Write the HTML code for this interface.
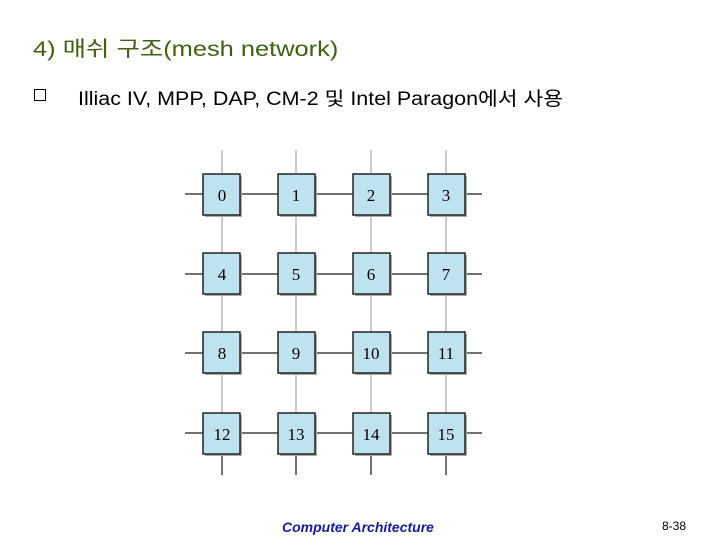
<!DOCTYPE html>
<html><head><meta charset="utf-8"><style>
body{margin:0;width:720px;height:540px;background:#fff;position:relative;overflow:hidden;font-family:"Liberation Sans","Noto Sans CJK KR",sans-serif}
.t{position:absolute;white-space:nowrap}
</style></head><body>
<div class="t" style="left:33px;top:33px;font-size:21px;color:#3f6212;transform:scaleX(1.21);transform-origin:0 0">4) 매쉬 구조(mesh network)</div>
<div class="t" style="left:34px;top:89px;width:12px;height:12px;border:1.5px solid #000;box-sizing:border-box"></div>
<div class="t" style="left:78px;top:84px;font-size:19px;color:#000;transform:scaleX(1.13);transform-origin:0 0">Illiac IV, MPP, DAP, CM-2 및 Intel Paragon에서 사용</div>
<svg width="720" height="540" style="position:absolute;left:0;top:0">
<g stroke="#ccc" stroke-width="2">
<line x1="222" y1="150" x2="222" y2="455"/><line x1="296" y1="150" x2="296" y2="455"/>
<line x1="371" y1="150" x2="371" y2="455"/><line x1="446" y1="150" x2="446" y2="455"/>
</g>
<g stroke="#444" stroke-width="1.5">
<line x1="222" y1="453" x2="222" y2="475"/><line x1="296" y1="453" x2="296" y2="475"/>
<line x1="371" y1="453" x2="371" y2="475"/><line x1="446" y1="453" x2="446" y2="475"/>
<line x1="185" y1="194" x2="482" y2="194"/><line x1="185" y1="274" x2="482" y2="274"/>
<line x1="185" y1="353" x2="482" y2="353"/><line x1="185" y1="433" x2="482" y2="433"/>
</g>
</svg>
<svg width="720" height="540" style="position:absolute;left:0;top:0" font-family="Liberation Serif,serif" font-size="17" text-anchor="middle">
<g>
<rect x="205" y="176" width="37" height="41" fill="#aaa"/><rect x="203" y="174" width="37" height="41" fill="#bfe3ee" stroke="#222" stroke-width="1.5"/><text x="222" y="201">0</text>
<rect x="280" y="176" width="37" height="41" fill="#aaa"/><rect x="278" y="174" width="37" height="41" fill="#bfe3ee" stroke="#222" stroke-width="1.5"/><text x="296" y="201">1</text>
<rect x="355" y="176" width="37" height="41" fill="#aaa"/><rect x="353" y="174" width="37" height="41" fill="#bfe3ee" stroke="#222" stroke-width="1.5"/><text x="371" y="201">2</text>
<rect x="430" y="176" width="37" height="41" fill="#aaa"/><rect x="428" y="174" width="37" height="41" fill="#bfe3ee" stroke="#222" stroke-width="1.5"/><text x="446" y="201">3</text>
<rect x="205" y="255" width="37" height="41" fill="#aaa"/><rect x="203" y="253" width="37" height="41" fill="#bfe3ee" stroke="#222" stroke-width="1.5"/><text x="222" y="280">4</text>
<rect x="280" y="255" width="37" height="41" fill="#aaa"/><rect x="278" y="253" width="37" height="41" fill="#bfe3ee" stroke="#222" stroke-width="1.5"/><text x="296" y="280">5</text>
<rect x="355" y="255" width="37" height="41" fill="#aaa"/><rect x="353" y="253" width="37" height="41" fill="#bfe3ee" stroke="#222" stroke-width="1.5"/><text x="371" y="280">6</text>
<rect x="430" y="255" width="37" height="41" fill="#aaa"/><rect x="428" y="253" width="37" height="41" fill="#bfe3ee" stroke="#222" stroke-width="1.5"/><text x="446" y="280">7</text>
<rect x="205" y="334" width="37" height="41" fill="#aaa"/><rect x="203" y="332" width="37" height="41" fill="#bfe3ee" stroke="#222" stroke-width="1.5"/><text x="222" y="359">8</text>
<rect x="280" y="334" width="37" height="41" fill="#aaa"/><rect x="278" y="332" width="37" height="41" fill="#bfe3ee" stroke="#222" stroke-width="1.5"/><text x="296" y="359">9</text>
<rect x="355" y="334" width="37" height="41" fill="#aaa"/><rect x="353" y="332" width="37" height="41" fill="#bfe3ee" stroke="#222" stroke-width="1.5"/><text x="371" y="359">10</text>
<rect x="430" y="334" width="37" height="41" fill="#aaa"/><rect x="428" y="332" width="37" height="41" fill="#bfe3ee" stroke="#222" stroke-width="1.5"/><text x="446" y="359">11</text>
<rect x="205" y="415" width="37" height="41" fill="#aaa"/><rect x="203" y="413" width="37" height="41" fill="#bfe3ee" stroke="#222" stroke-width="1.5"/><text x="222" y="440">12</text>
<rect x="280" y="415" width="37" height="41" fill="#aaa"/><rect x="278" y="413" width="37" height="41" fill="#bfe3ee" stroke="#222" stroke-width="1.5"/><text x="296" y="440">13</text>
<rect x="355" y="415" width="37" height="41" fill="#aaa"/><rect x="353" y="413" width="37" height="41" fill="#bfe3ee" stroke="#222" stroke-width="1.5"/><text x="371" y="440">14</text>
<rect x="430" y="415" width="37" height="41" fill="#aaa"/><rect x="428" y="413" width="37" height="41" fill="#bfe3ee" stroke="#222" stroke-width="1.5"/><text x="446" y="440">15</text>
</g>
</svg>
<div class="t" style="left:282px;top:519px;font-size:14px;font-style:italic;font-weight:bold;color:#1a1aa0">Computer Architecture</div>
<div class="t" style="left:662px;top:519px;font-size:12px;color:#000">8-38</div>
</body></html>
